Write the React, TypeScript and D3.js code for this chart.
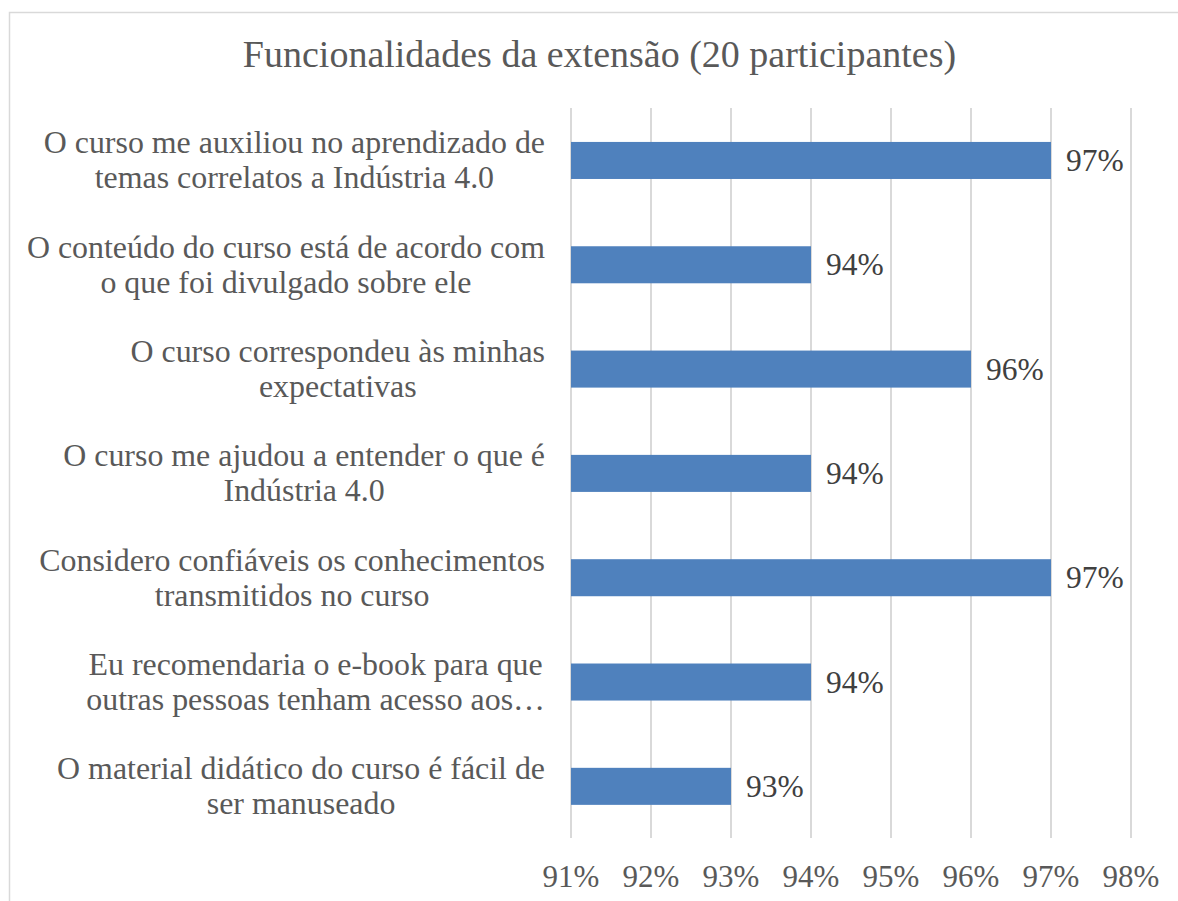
import React, { useEffect, useRef } from "react";
import * as d3 from "d3";

const title = "Funcionalidades da extensão (20 participantes)";

const categories: string[][] = [
  ["O curso me auxiliou no aprendizado de", "temas correlatos a Indústria 4.0"],
  ["O conteúdo do curso está de acordo com", "o que foi divulgado sobre ele"],
  ["O curso correspondeu às minhas", "expectativas"],
  ["O curso me ajudou a entender o que é", "Indústria 4.0"],
  ["Considero confiáveis os conhecimentos", "transmitidos no curso"],
  ["Eu recomendaria o e-book para que", "outras pessoas tenham acesso aos…"],
  ["O material didático do curso é fácil de", "ser manuseado"],
];

const values: number[] = [0.97, 0.94, 0.96, 0.94, 0.97, 0.94, 0.93];

const tickValues: number[] = [0.91, 0.92, 0.93, 0.94, 0.95, 0.96, 0.97, 0.98];

const W = 1178;
const H = 901;
const FONT = '"Liberation Serif", "Times New Roman", Times, serif';

export default function App() {
  const ref = useRef<SVGSVGElement | null>(null);

  useEffect(() => {
    const svg = d3.select(ref.current);
    svg.selectAll("*").remove();

    const x = d3.scaleLinear().domain([0.91, 0.98]).range([571, 1131]);
    const keys = categories.map((_, i) => String(i));
    const y = d3
      .scaleBand<string>()
      .domain(keys)
      .range([108.3, 838.5])
      .paddingInner(0.645)
      .paddingOuter(0.3225);

    svg
      .append("rect")
      .attr("x", 9.5)
      .attr("y", 12.5)
      .attr("width", 1300)
      .attr("height", 1000)
      .attr("fill", "#fff")
      .attr("stroke", "#d9d9d9")
      .attr("stroke-width", 1.5);

    svg
      .append("text")
      .attr("x", 599.5)
      .attr("y", 67)
      .attr("text-anchor", "middle")
      .attr("font-family", FONT)
      .attr("font-size", 38)
      .attr("fill", "#595959")
      .text(title);

    svg
      .append("g")
      .selectAll("line")
      .data(tickValues)
      .join("line")
      .attr("x1", (d) => x(d))
      .attr("x2", (d) => x(d))
      .attr("y1", 108)
      .attr("y2", 838)
      .attr("stroke", "#d9d9d9")
      .attr("stroke-width", 2);

    svg
      .append("g")
      .selectAll("text")
      .data(tickValues)
      .join("text")
      .attr("x", (d) => x(d))
      .attr("y", 887)
      .attr("text-anchor", "middle")
      .attr("font-family", FONT)
      .attr("font-size", 31)
      .attr("fill", "#595959")
      .text((d) => d3.format(".0%")(d));

    svg
      .append("g")
      .selectAll("rect")
      .data(values)
      .join("rect")
      .attr("x", x(0.91))
      .attr("y", (_, i) => y(String(i))!)
      .attr("width", (d) => x(d) - x(0.91))
      .attr("height", y.bandwidth())
      .attr("fill", "#4f81bd");

    svg
      .append("g")
      .selectAll("text")
      .data(values)
      .join("text")
      .attr("x", (d) => x(d) + 15)
      .attr("y", (_, i) => y(String(i))! + y.bandwidth() / 2 + 10.5)
      .attr("font-family", FONT)
      .attr("font-size", 31.5)
      .attr("fill", "#404040")
      .text((d) => d3.format(".0%")(d));

    const lineH = 35;
    const right = 545;
    categories.forEach((lines, i) => {
      const cy = y(String(i))! + y.bandwidth() / 2;
      const g = svg.append("g");
      const texts = lines.map((ln, j) =>
        g
          .append("text")
          .attr("y", cy + 10.5 + (j - (lines.length - 1) / 2) * lineH)
          .attr("text-anchor", "middle")
          .attr("font-family", FONT)
          .attr("font-size", 31.9)
          .attr("fill", "#595959")
          .text(ln)
      );
      const maxW = d3.max(texts, (t) => (t.node() as SVGTextElement).getComputedTextLength()) || 0;
      texts.forEach((t) => t.attr("x", right - maxW / 2));
    });
  }, []);

  return (
    <svg
      ref={ref}
      width={W}
      height={H}
      style={{ position: "absolute", left: 0, top: 0, background: "#fff" }}
    />
  );
}
